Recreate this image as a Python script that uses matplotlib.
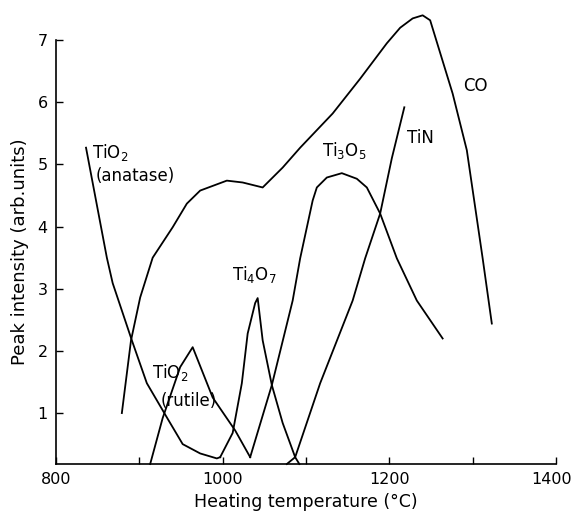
import numpy as np
import matplotlib
matplotlib.use("Agg")
import matplotlib.pyplot as plt
from matplotlib.transforms import ScaledTranslation

# Valores (temperatura en °C, intensidad en unidades arb.)
anatase_T = [836, 861, 868, 891, 909, 933, 952, 973, 993, 997]
anatase_I = [5.27, 3.50, 3.09, 2.17, 1.48, 0.93, 0.50, 0.35, 0.27, 0.29]

ti4o7_T = [997, 1012, 1023, 1030, 1039, 1042, 1048, 1059, 1072, 1087, 1092]
ti4o7_I = [0.29, 0.68, 1.48, 2.28, 2.77, 2.85, 2.17, 1.45, 0.84, 0.29, 0.18]

rutile_T = [913, 928, 949, 964, 988, 1015, 1033]
rutile_I = [0.18, 0.92, 1.74, 2.06, 1.25, 0.72, 0.29]

ti3o5_T = [1033, 1059, 1084, 1093, 1108, 1113, 1125, 1143, 1161, 1173, 1189, 1209, 1233, 1264]
ti3o5_I = [0.29, 1.45, 2.81, 3.49, 4.42, 4.63, 4.79, 4.86, 4.77, 4.63, 4.21, 3.49, 2.81, 2.20]

tin_T = [1077, 1087, 1117, 1156, 1171, 1189, 1203, 1218]
tin_I = [0.18, 0.29, 1.48, 2.81, 3.49, 4.21, 5.10, 5.92]

co_T = [879, 890, 901, 916, 940, 957, 973, 1005, 1024, 1048, 1072, 1093, 1132, 1165,
        1197, 1213, 1228, 1240, 1249, 1276, 1293, 1312, 1323]
co_I = [1.00, 2.17, 2.86, 3.50, 3.99, 4.37, 4.58, 4.74, 4.71, 4.63, 4.95, 5.27, 5.82, 6.38,
        6.95, 7.20, 7.35, 7.40, 7.32, 6.14, 5.23, 3.49, 2.44]

x_major = [800, 1000, 1200, 1400]
x_minor = [900, 1100, 1300]
y_ticks = [1, 2, 3, 4, 5, 6, 7]

plt.rcParams['font.family'] = 'DejaVu Sans'

fig = plt.figure(figsize=(5.74, 5.15), dpi=100)
ax = fig.add_axes([0.0976, 0.099, 0.871, 0.823])

for T, I in [(anatase_T, anatase_I), (ti4o7_T, ti4o7_I), (rutile_T, rutile_I),
             (ti3o5_T, ti3o5_I), (tin_T, tin_I), (co_T, co_I)]:
    ax.plot(T, I, color='black', lw=1.3, solid_joinstyle='round', clip_on=False)

# Etiquetas de las curvas
fs = 12
ax.text(843, 5.20, r'TiO$_2$', fontsize=fs, va='center')
ax.text(847, 4.82, '(anatase)', fontsize=fs, va='center')
ax.text(1011, 3.23, r'Ti$_4$O$_7$', fontsize=fs, va='center')
ax.text(1119, 5.22, r'Ti$_3$O$_5$', fontsize=fs, va='center')
ax.text(1221, 5.43, 'TiN', fontsize=fs, va='center')
ax.text(1288, 6.27, 'CO', fontsize=fs, va='center')
ax.text(915, 1.66, r'TiO$_2$', fontsize=fs, va='center')
ax.text(925, 1.20, '(rutile)', fontsize=fs, va='center')

ax.set_xlim(800, 1400)
ax.set_ylim(0.18, 7)
ax.set_xticks(x_major)
ax.set_xticks(x_minor, minor=True)
ax.set_yticks(y_ticks)
ax.tick_params(axis='both', which='both', direction='in', length=5, width=1,
               labelsize=11.5, pad=6)
ax.spines['top'].set_visible(False)
ax.spines['right'].set_visible(False)
for s in ['left', 'bottom']:
    ax.spines[s].set_linewidth(1.2)

# el "1400" queda un poco a la izquierda, como en el original
ultimo = ax.get_xticklabels()[-1]
ultimo.set_transform(ultimo.get_transform() + ScaledTranslation(-3 / 72, 0, fig.dpi_scale_trans))

ax.set_xlabel('Heating temperature (°C)', fontsize=12.5, labelpad=4)
ax.set_ylabel('Peak intensity (arb.units)', fontsize=13, labelpad=6)

fig.savefig('out.png', dpi=100)
